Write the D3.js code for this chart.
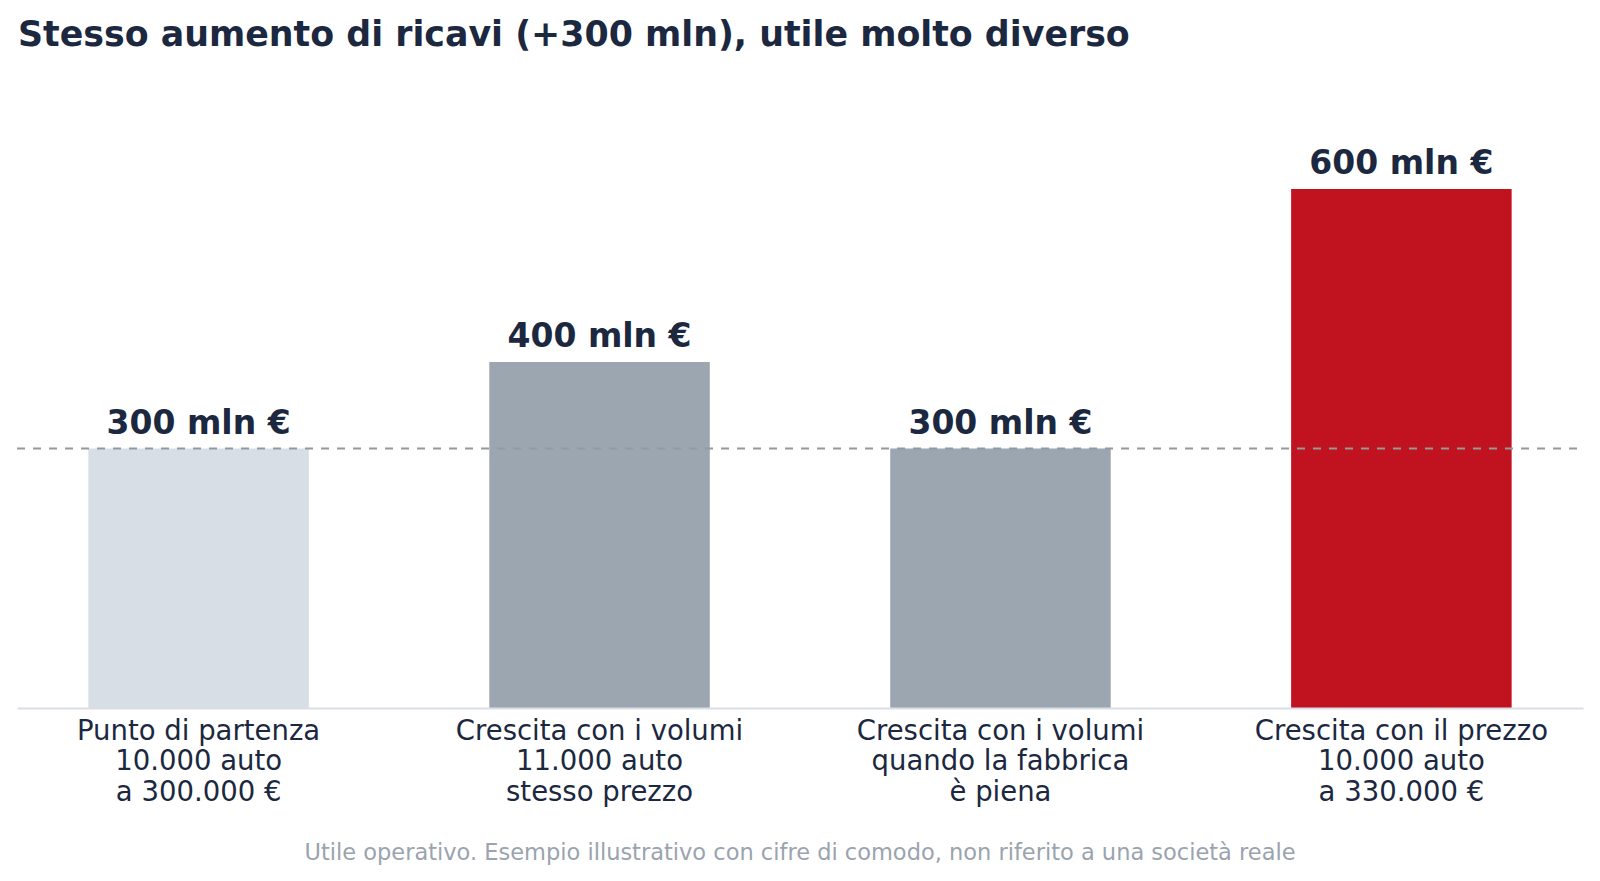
<!DOCTYPE html>
<html>
<head>
<meta charset="utf-8">
<script src="https://cdn.jsdelivr.net/npm/d3@7"></script>
<style>
  body { margin: 0; background: #fff; }
  svg { display: block; font-family: "DejaVu Sans", sans-serif; }
</style>
</head>
<body>
<svg id="chart" width="1600" height="881"></svg>
<script>
const categories = ["start", "volumes", "volumesFull", "price"];
const categoryLabels = [
    ["Punto di partenza", "10.000 auto", "a 300.000 €"],
    ["Crescita con i volumi", "11.000 auto", "stesso prezzo"],
    ["Crescita con i volumi", "quando la fabbrica", "è piena"],
    ["Crescita con il prezzo", "10.000 auto", "a 330.000 €"]
];
const profitValues = [300, 400, 300, 600];
const referenceValue = 300;
const barColors = ["#d8dee6", "#9ca6b1", "#9ca6b1", "#c0131f"];

const svg = d3.select("#chart");
const TEXT = "#1b2840";

const x = d3.scaleBand()
    .domain(categories)
    .range([17, 1583])
    .paddingInner(0.45)
    .paddingOuter(0.178);

const y = d3.scaleLinear()
    .domain([0, 600])
    .range([708, 189]);

// title
svg.append("text")
   .attr("x", 18)
   .attr("y", 46)
   .attr("fill", TEXT)
   .style("font-size", "34.8px")
   .style("font-weight", "bold")
   .text("Stesso aumento di ricavi (+300 mln), utile molto diverso");

// bars
svg.selectAll("rect.bar")
   .data(profitValues)
   .enter()
   .append("rect")
   .attr("class", "bar")
   .attr("x", (d, i) => x(categories[i]))
   .attr("y", d => y(d))
   .attr("width", x.bandwidth())
   .attr("height", d => y(0) - y(d))
   .attr("fill", (d, i) => barColors[i]);

// x axis
const xAxis = d3.axisBottom(x).tickSize(0).tickFormat("");
const axisG = svg.append("g")
   .attr("transform", "translate(0," + y(0) + ")")
   .call(xAxis);
axisG.select(".domain").attr("stroke", "#d9dee4").attr("stroke-width", 2);

// reference line at starting profit (drawn over the bars)
svg.append("line")
   .attr("x1", 17)
   .attr("x2", 1578)
   .attr("y1", y(referenceValue))
   .attr("y2", y(referenceValue))
   .attr("stroke", "#94999f")
   .attr("stroke-width", 1.8)
   .attr("stroke-dasharray", "8,8");

// value labels
svg.selectAll("text.value")
   .data(profitValues)
   .enter()
   .append("text")
   .attr("class", "value")
   .attr("x", (d, i) => x(categories[i]) + x.bandwidth() / 2)
   .attr("y", d => y(d) - 15)
   .attr("text-anchor", "middle")
   .attr("fill", TEXT)
   .style("font-size", "33px")
   .style("font-weight", "bold")
   .text(d => d + " mln €");

// category labels
const labelG = svg.selectAll("text.cat")
   .data(categoryLabels)
   .enter()
   .append("text")
   .attr("class", "cat")
   .attr("text-anchor", "middle")
   .attr("fill", TEXT)
   .style("font-size", "27.5px");

labelG.selectAll("tspan")
   .data((d, i) => d.map(line => ({ line, i })))
   .enter()
   .append("tspan")
   .attr("x", d => x(categories[d.i]) + x.bandwidth() / 2)
   .attr("y", (d, j) => 739.5 + j * 30.5)
   .text(d => d.line);

// footnote
svg.append("text")
   .attr("x", 800)
   .attr("y", 860)
   .attr("text-anchor", "middle")
   .attr("fill", "#9aa3ae")
   .style("font-size", "22.5px")
   .text("Utile operativo. Esempio illustrativo con cifre di comodo, non riferito a una società reale");
</script>
</body>
</html>
